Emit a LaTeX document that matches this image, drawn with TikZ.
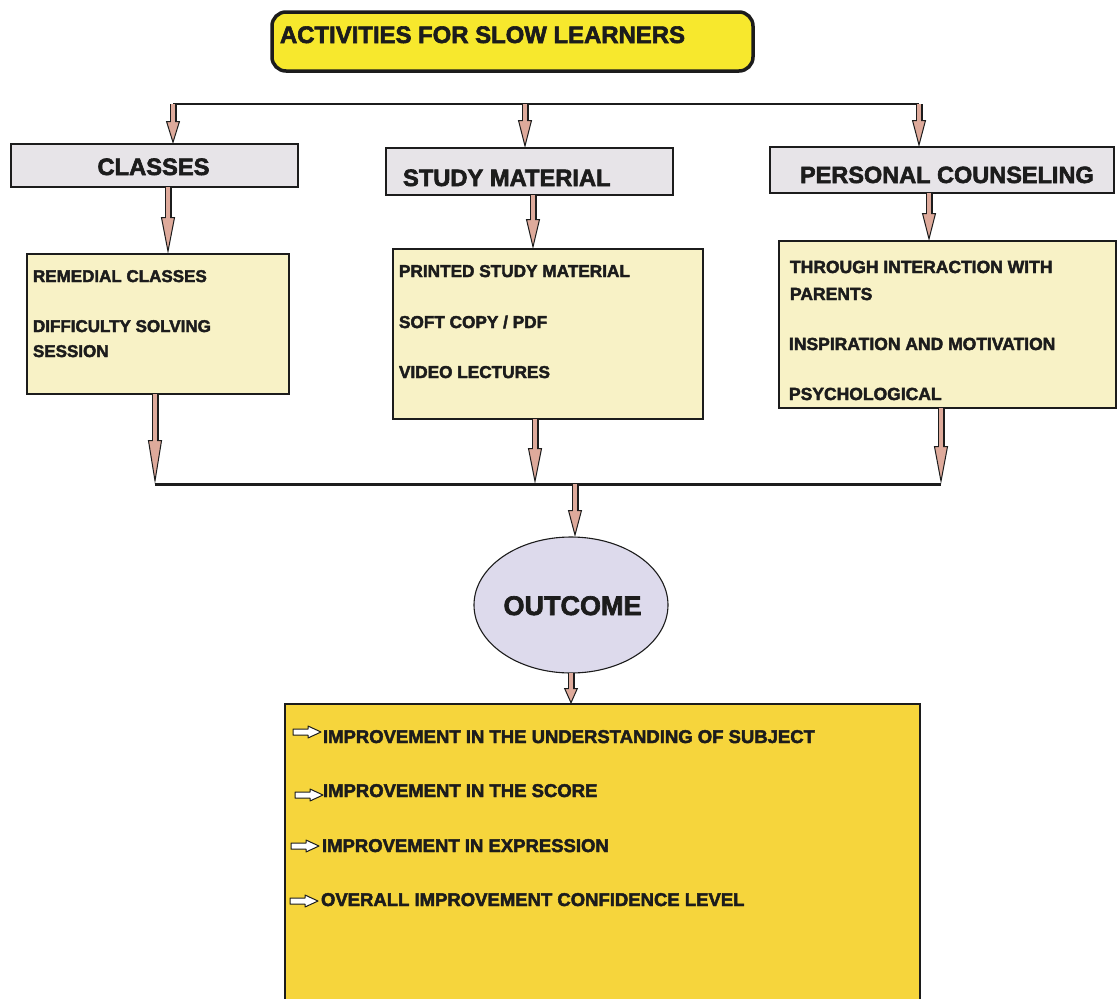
\documentclass[tikz,border=0pt]{standalone}
\usepackage{fontspec}
\setmainfont{Liberation Sans}[BoldFont={Liberation Sans Bold}, BoldFeatures={FakeBold=2.5}]
\usetikzlibrary{arrows.meta,shapes.geometric}
\definecolor{titlefill}{RGB}{247,232,45}
\definecolor{headfill}{RGB}{231,228,232}
\definecolor{detfill}{RGB}{248,242,198}
\definecolor{ovalfill}{RGB}{221,218,236}
\definecolor{outfill}{RGB}{246,213,60}
\definecolor{arrowpink}{RGB}{222,170,155}
\definecolor{ink}{RGB}{28,28,28}
\begin{document}
\begin{tikzpicture}[x=1pt,y=-1pt,
  box/.style={draw=ink, inner sep=0pt, outer sep=0pt, anchor=north west},
  titlebox/.style={box, fill=titlefill, line width=3.5pt, rounded corners=14pt},
  headbox/.style={box, fill=headfill, line width=2.2pt},
  detbox/.style={box, fill=detfill, line width=1.3pt},
  outbox/.style={box, fill=outfill, line width=1.4pt},
  oval/.style={ellipse, draw=ink, fill=ovalfill, line width=1.1pt, inner sep=0pt, outer sep=0pt},
  lbl/.style={inner sep=0pt, outer sep=0pt, anchor=base west, text=ink, font=\bfseries\fontsize{#1}{#1}\selectfont},
  bus/.style={draw=ink, line width=#1},
  barrow/.style={draw=ink, line width=1pt,
    -{Triangle[length=#1pt, width=14pt, fill=arrowpink]},
    preaction={draw=ink, line width=7pt, -, shorten >=#1pt-0.5pt},
    postaction={draw=arrowpink, line width=4pt, -, shorten >=#1pt-2pt}},
  bul/.pic={\draw[draw=ink, line width=1pt, fill=white, line join=round]
    (0,-3) -- (15,-3) -- (15,-6) -- (28,0) -- (15,6) -- (15,3) -- (0,3) -- cycle;}
]
\useasboundingbox (0,0) rectangle (1117,999);
\clip (0,0) rectangle (1117,999);
\fill[white] (0,0) rectangle (1117,999);

% title
\node[titlebox, minimum width=481pt, minimum height=59pt] (title) at (272,12) {};
\node[lbl=23.9] (titletxt) at (280,43) {ACTIVITIES FOR SLOW LEARNERS};

% header boxes
\node[headbox, minimum width=287pt, minimum height=43pt] (classes) at (11,144) {};
\node[lbl=23.7, anchor=base] (classestxt) at (153.5,175) {CLASSES};
\node[headbox, minimum width=287pt, minimum height=47pt] (study) at (386,148) {};
\node[lbl=23.7] (studytxt) at (403,186) {STUDY MATERIAL};
\node[headbox, minimum width=344pt, minimum height=46pt] (pc) at (770,147) {};
\node[lbl=23.5] (pctxt) at (800,183) {PERSONAL COUNSELING};

% detail boxes
\node[detbox, minimum width=262pt, minimum height=140pt] (cdet) at (27,254) {};
\node[lbl=17] (c1) at (33,282) {REMEDIAL CLASSES};
\node[lbl=17] (c2) at (33,332) {DIFFICULTY SOLVING};
\node[lbl=17] (c3) at (33,357) {SESSION};

\node[detbox, minimum width=310pt, minimum height=170pt] (sdet) at (393,249) {};
\node[lbl=17.2] (s1) at (399,277) {PRINTED STUDY MATERIAL};
\node[lbl=17.2] (s2) at (399,328) {SOFT COPY / PDF};
\node[lbl=17.2] (s3) at (399,378) {VIDEO LECTURES};

\node[detbox, minimum width=337pt, minimum height=167pt] (pdet) at (779,241) {};
\node[lbl=17.5] (p1) at (790,273) {THROUGH INTERACTION WITH};
\node[lbl=17.5] (p2) at (790,300) {PARENTS};
\node[lbl=17.5] (p3) at (789,350) {INSPIRATION AND MOTIVATION};
\node[lbl=17.5] (p4) at (789,400) {PSYCHOLOGICAL};

% outcome
\node[oval, minimum width=194pt, minimum height=136pt] (outcome) at (571,605) {};
\node[lbl=27, anchor=base] (outtxt) at (572.5,615) {OUTCOME};

% final box
\node[outbox, minimum width=635pt, minimum height=330pt] (final) at (285,704) {};
\pic at (293,732) {bul};
\node[lbl=18.5] (f1) at (323,743) {IMPROVEMENT IN THE UNDERSTANDING OF SUBJECT};
\pic at (295,795) {bul};
\node[lbl=18.5] (f2) at (323,797) {IMPROVEMENT IN THE SCORE};
\pic at (291,846) {bul};
\node[lbl=18.5] (f3) at (322,852) {IMPROVEMENT IN EXPRESSION};
\pic at (290,901) {bul};
\node[lbl=18.5] (f4) at (321,906) {OVERALL IMPROVEMENT CONFIDENCE LEVEL};

% coordinates
\coordinate (tl) at (173,104);
\coordinate (tm) at (525,104);
\coordinate (tr) at (919,104);
\coordinate (xa) at (168,0);
\coordinate (xb) at (533,0);
\coordinate (xc) at (929,0);
\coordinate (bl) at (155,484);
\coordinate (xd) at (535,0);
\coordinate (br) at (941,484);
\coordinate (bm) at (575,484);

% top bus and arrows
\draw[bus=2pt] (tl) -- (tr);
\draw[barrow=23] (tl) -- (tl |- classes.north);
\draw[barrow=28] (tm) -- (tm |- study.north);
\draw[barrow=27] (tr) -- (tr |- pc.north);

% header -> detail
\draw[barrow=37] (xa |- classes.south) -- (xa |- cdet.north);
\draw[barrow=30] (xb |- study.south) -- (xb |- sdet.north);
\draw[barrow=28] (xc |- pc.south) -- (xc |- pdet.north);

% bottom bus
\draw[bus=3pt] (bl) -- (br);
\draw[barrow=44] (bl |- cdet.south) -- (bl);
\draw[barrow=36] (xd |- sdet.south) -- (xd |- bl);
\draw[barrow=38] (br |- pdet.south) -- (br);
\draw[barrow=27] (bm) -- (bm |- outcome.north);
\draw[barrow=16] (outcome.south) -- (outcome.south |- final.north);
\end{tikzpicture}
\end{document}
